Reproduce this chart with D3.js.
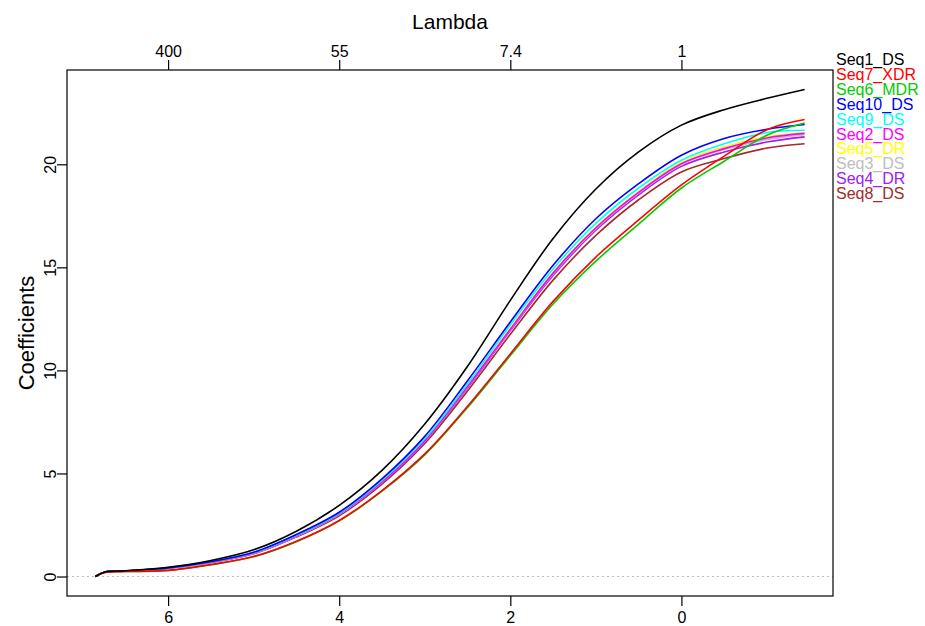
<!DOCTYPE html>
<html>
<head>
<meta charset="utf-8">
<script src="https://cdn.jsdelivr.net/npm/d3@7"></script>
<style>
html,body{margin:0;padding:0;background:#fff;}
svg{display:block;font-family:"Liberation Sans",Arial,sans-serif;}
</style>
</head>
<body>
<svg id="chart" width="925" height="626"></svg>
<script>
// log(lambda) grid (x) at which the coefficients were read
const logLambda = [6.85, 6.74, 6.5, 6, 5.5, 5, 4.5, 4, 3.5, 3, 2.5, 2, 1.5, 1, 0.5, 0, -0.5, -1, -1.44];

const seriesNames = ["Seq1_DS","Seq7_XDR","Seq6_MDR","Seq10_DS","Seq9_DS","Seq2_DS","Seq5_DR","Seq3_DS","Seq4_DR","Seq8_DS"];
const seriesColors = ["#000000","#FF0000","#00CD00","#0000FF","#00FFFF","#FF00FF","#FFFF00","#BEBEBE","#A020F0","#A52A2A"];

const seq1_DS  = [0, 0.22, 0.28, 0.45, 0.78, 1.30, 2.20, 3.45, 5.15, 7.40, 10.20, 13.40, 16.40, 18.80, 20.60, 21.90, 22.65, 23.20, 23.63];
const seq7_XDR = [0, 0.20, 0.24, 0.30, 0.58, 0.97, 1.71, 2.72, 4.17, 5.95, 8.26, 10.80, 13.35, 15.50, 17.30, 19.00, 20.40, 21.68, 22.17];
const seq6_MDR = [0, 0.20, 0.24, 0.29, 0.57, 0.96, 1.69, 2.70, 4.14, 5.90, 8.20, 10.72, 13.22, 15.30, 17.10, 18.85, 20.15, 21.41, 22.00];
const seq10_DS = [0, 0.22, 0.27, 0.42, 0.72, 1.18, 2.04, 3.12, 4.74, 6.80, 9.50, 12.35, 15.10, 17.36, 19.06, 20.44, 21.25, 21.70, 21.93];
const seq9_DS  = [0, 0.22, 0.27, 0.41, 0.71, 1.16, 2.00, 3.07, 4.66, 6.68, 9.35, 12.20, 14.92, 17.13, 18.85, 20.20, 21.00, 21.54, 21.65];
const seq2_DS  = [0, 0.22, 0.27, 0.41, 0.70, 1.14, 1.97, 3.03, 4.59, 6.58, 9.22, 12.00, 14.72, 16.92, 18.64, 20.03, 20.76, 21.28, 21.50];
const seq5_DR  = [0, 0.22, 0.27, 0.41, 0.70, 1.14, 1.97, 3.03, 4.60, 6.60, 9.25, 12.05, 14.76, 16.96, 18.68, 20.10, 20.84, 21.33, 21.54];
const seq3_DS  = [0, 0.22, 0.27, 0.41, 0.70, 1.13, 1.96, 3.02, 4.58, 6.56, 9.20, 11.98, 14.68, 16.88, 18.60, 20.00, 20.72, 21.20, 21.44];
const seq4_DR  = [0, 0.22, 0.27, 0.40, 0.69, 1.12, 1.95, 3.00, 4.55, 6.54, 9.15, 11.93, 14.60, 16.80, 18.52, 19.90, 20.60, 21.08, 21.33];
const seq8_DS  = [0, 0.22, 0.26, 0.40, 0.68, 1.10, 1.92, 2.95, 4.48, 6.45, 9.00, 11.75, 14.38, 16.55, 18.28, 19.63, 20.28, 20.79, 21.00];

const seriesValues = [seq1_DS, seq7_XDR, seq6_MDR, seq10_DS, seq9_DS, seq2_DS, seq5_DR, seq3_DS, seq4_DR, seq8_DS];

const bottomTicks = [6, 4, 2, 0];
const topTickLabels = ["400", "55", "7.4", "1"];
const yTicks = [0, 5, 10, 15, 20];

const svg = d3.select("#chart");
const L = 67, R = 833, T = 70, B = 596;

// R-style 4% expansion of data range
const xMin = d3.min(logLambda), xMax = d3.max(logLambda);
const xPad = (xMax - xMin) * 0.04;
const allY = seriesValues.flat();
const yMin = d3.min(allY), yMax = d3.max(allY);
const yPad = (yMax - yMin) * 0.04;

const x = d3.scaleLinear().domain([xMax + xPad, xMin - xPad]).range([L, R]);
const y = d3.scaleLinear().domain([yMin - yPad, yMax + yPad]).range([B, T]);

// zero reference line
svg.append("line")
  .attr("x1", L).attr("x2", R)
  .attr("y1", y(0)).attr("y2", y(0))
  .attr("stroke", "#BEBEBE").attr("stroke-width", 1.2)
  .attr("stroke-dasharray", "2,3");

const line = d3.line()
  .x((d, i) => x(logLambda[i]))
  .y(d => y(d))
  .curve(d3.curveCatmullRom.alpha(0.5));

const g = svg.append("g");
// draw in reverse so the black line is on top
for (let k = seriesValues.length - 1; k >= 0; k--) {
  g.append("path")
    .attr("d", line(seriesValues[k]))
    .attr("fill", "none")
    .attr("stroke", seriesColors[k])
    .attr("stroke-width", 1.6)
    .attr("stroke-linejoin", "round");
}

// box
svg.append("rect")
  .attr("x", L).attr("y", T).attr("width", R - L).attr("height", B - T)
  .attr("fill", "none").attr("stroke", "#000").attr("stroke-width", 1.2);

const tickLen = 10;
const fs = 16;

// bottom axis
const bAxis = svg.append("g").attr("transform", `translate(0,${B})`)
  .call(d3.axisBottom(x).tickValues(bottomTicks).tickFormat(d3.format("d")).tickSize(tickLen).tickPadding(6));
bAxis.select(".domain").remove();
bAxis.selectAll("line").attr("stroke", "#000").attr("stroke-width", 1.2);
bAxis.selectAll("text").attr("font-size", fs).attr("fill", "#000").attr("font-family", "Liberation Sans, Arial, sans-serif");

// top axis (lambda)
const tAxis = svg.append("g").attr("transform", `translate(0,${T})`)
  .call(d3.axisTop(x).tickValues(bottomTicks).tickFormat((d, i) => topTickLabels[i]).tickSize(tickLen).tickPadding(3));
tAxis.select(".domain").remove();
tAxis.selectAll("line").attr("stroke", "#000").attr("stroke-width", 1.2);
tAxis.selectAll("text").attr("font-size", fs).attr("fill", "#000").attr("font-family", "Liberation Sans, Arial, sans-serif");

// left axis with rotated labels
const lAxis = svg.append("g").attr("transform", `translate(${L},0)`)
  .call(d3.axisLeft(y).tickValues(yTicks).tickFormat(d3.format("d")).tickSize(tickLen).tickPadding(0));
lAxis.select(".domain").remove();
lAxis.selectAll("line").attr("stroke", "#000").attr("stroke-width", 1.2);
lAxis.selectAll("text")
  .attr("font-size", fs).attr("fill", "#000").attr("font-family", "Liberation Sans, Arial, sans-serif")
  .attr("x", null).attr("dy", null)
  .attr("text-anchor", "middle")
  .attr("transform", `translate(${-tickLen - 1},0) rotate(-90)`);

// titles
svg.append("text").attr("x", (L + R) / 2).attr("y", 29)
  .attr("text-anchor", "middle").attr("font-size", 21).text("Lambda");
svg.append("text")
  .attr("transform", `translate(34,${(T + B) / 2}) rotate(-90)`)
  .attr("text-anchor", "middle").attr("font-size", 22).text("Coefficients");

// legend
const leg = svg.append("g");
seriesNames.forEach((n, i) => {
  leg.append("text")
    .attr("x", 836).attr("y", 65 + 14.9 * i)
    .attr("font-size", fs).attr("fill", seriesColors[i]).text(n);
});
</script>
</body>
</html>
